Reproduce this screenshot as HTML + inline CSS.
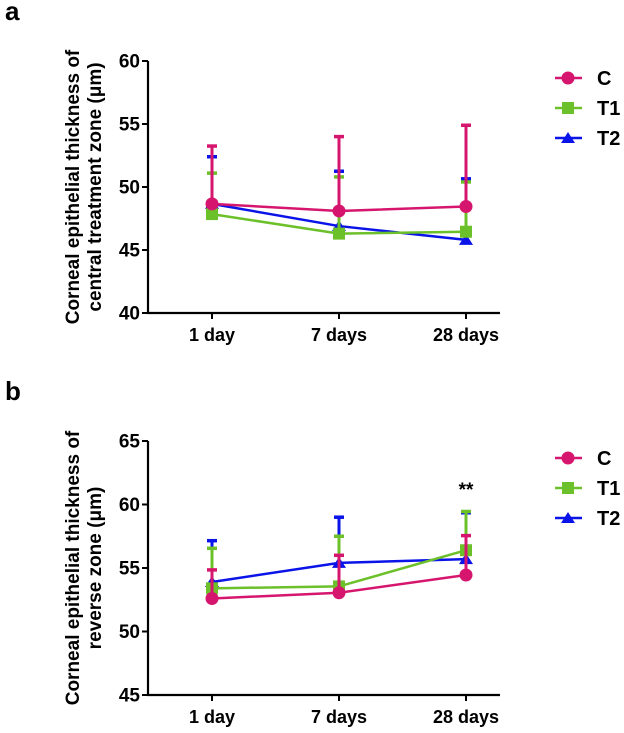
<!DOCTYPE html>
<html><head><meta charset="utf-8"><style>
body{margin:0;background:#fff;width:624px;height:728px;overflow:hidden}
svg text{font-family:"Liberation Sans",Arial,sans-serif;font-weight:bold;fill:#000}
</style></head><body>
<svg id="chart" width="624" height="728" xmlns="http://www.w3.org/2000/svg"></svg>
<script>
const categories = ["1 day","7 days","28 days"];
const seriesNames = ["C","T1","T2"];
const aC = [48.66,48.1,48.45], aCErr = [53.25,54.0,54.9];
const aT1 = [47.85,46.3,46.45], aT1Err = [51.1,50.8,50.4];
const aT2 = [48.66,46.9,45.8], aT2Err = [52.4,51.25,50.65];
const bC = [52.6,53.05,54.45], bCErr = [54.85,56.0,57.55];
const bT1 = [53.4,53.55,56.4], bT1Err = [56.55,57.5,59.45];
const bT2 = [53.9,55.4,55.7], bT2Err = [57.15,59.0,59.35];
const aTicks = [40,45,50,55,60];
const bTicks = [45,50,55,60,65];

const svg = document.getElementById('chart');
const NS = "http://www.w3.org/2000/svg";
function mk(tag, attrs, parent){const e=document.createElementNS(NS,tag);for(const k in attrs)e.setAttribute(k,attrs[k]);(parent||svg).appendChild(e);return e;}
const colors = {C:"#d6166e",T1:"#6cc02a",T2:"#0a14e8"};
const xPos = [212,339,466];

function marker(g,name,x,y){
  let m;
  if(name==="C") m=mk('circle',{cx:x,cy:y,r:6.5,fill:colors.C},g);
  else if(name==="T1") m=mk('rect',{x:x-6,y:y-6,width:12,height:12,fill:colors.T1},g);
  else m=mk('polygon',{points:`${x},${y-6} ${x+7},${y+5} ${x-7},${y+5}`,fill:colors.T2},g);
  
  
}

function panel(id, letter, letterY, top, bottom, ticks, titleLines, series, legendY, stars){
  const g = mk('g',{});
  
  
  const vmin = ticks[0], vmax = ticks[ticks.length-1];
  const y = v => bottom - (v - vmin)/(vmax - vmin)*(bottom - top);
  const axX = 148;
  const lt = mk('text',{x:5,y:letterY,'font-size':26},g); lt.textContent = letter;
  
  
  const ya = mk('line',{x1:axX,y1:top,x2:axX,y2:bottom,stroke:'#000','stroke-width':2.2},g);
  
  
  const xa = mk('line',{x1:axX-1,y1:bottom,x2:500,y2:bottom,stroke:'#000','stroke-width':2.2},g);
  
  
  ticks.forEach(t=>{
    mk('line',{x1:axX-6,y1:y(t),x2:axX,y2:y(t),stroke:'#000','stroke-width':2},g);
    const tx = mk('text',{x:axX-8,y:y(t)+6.5,'font-size':19,'text-anchor':'end'},g);
    tx.textContent = t;
    
    
  });
  categories.forEach((c,i)=>{
    mk('line',{x1:xPos[i],y1:bottom,x2:xPos[i],y2:bottom+6,stroke:'#000','stroke-width':2},g);
    const tx = mk('text',{x:xPos[i],y:bottom+28,'font-size':18,'text-anchor':'middle'},g);
    tx.textContent = c;
    
    
  });
  const cy = (top+bottom)/2;
  titleLines.forEach((l,i)=>{
    const xx = 79 + i*22;
    const tx = mk('text',{x:xx,y:cy,'font-size':19,'text-anchor':'middle',transform:`rotate(-90 ${xx} ${cy})`},g);
    tx.textContent = l;
    
    
  });
  [2,1,0].forEach(si=>{
    const name = seriesNames[si], vals = series[si][0], errs = series[si][1], col = colors[name];
    const sg = mk('g',{},g);
    
    
    vals.forEach((v,i)=>{
      mk('line',{x1:xPos[i],y1:y(v),x2:xPos[i],y2:y(errs[i]),stroke:col,'stroke-width':3},sg);
      mk('line',{x1:xPos[i]-5,y1:y(errs[i]),x2:xPos[i]+5,y2:y(errs[i]),stroke:col,'stroke-width':3.5},sg);
    });
    mk('polyline',{points:vals.map((v,i)=>xPos[i]+','+y(v)).join(' '),fill:'none',stroke:col,'stroke-width':2.5},sg);
    vals.forEach((v,i)=>marker(sg,name,xPos[i],y(v)));
  });
  seriesNames.forEach((n,i)=>{
    const ly = legendY + i*30;
    const lg = mk('g',{},g);
    
    
    mk('line',{x1:555,y1:ly,x2:582,y2:ly,stroke:colors[n],'stroke-width':2.5},lg);
    marker(lg,n,568,ly);
    const tx = mk('text',{x:597,y:ly+7,'font-size':20},lg); tx.textContent = n;
  });
  if(stars){
    const st = mk('text',{x:xPos[2],y:top+55,'font-size':19,'font-weight':'normal','text-anchor':'middle'},g);
    st.textContent = '**';
    
    
  }
}
panel('a','a',20,61,313,aTicks,['Corneal epithelial thickness of','central treatment zone (\u03bcm)'],
  [[aC,aCErr],[aT1,aT1Err],[aT2,aT2Err]],78,false);
panel('b','b',400,441,695,bTicks,['Corneal epithelial thickness of','reverse zone (\u03bcm)'],
  [[bC,bCErr],[bT1,bT1Err],[bT2,bT2Err]],458,true);
</script>
</body></html>
